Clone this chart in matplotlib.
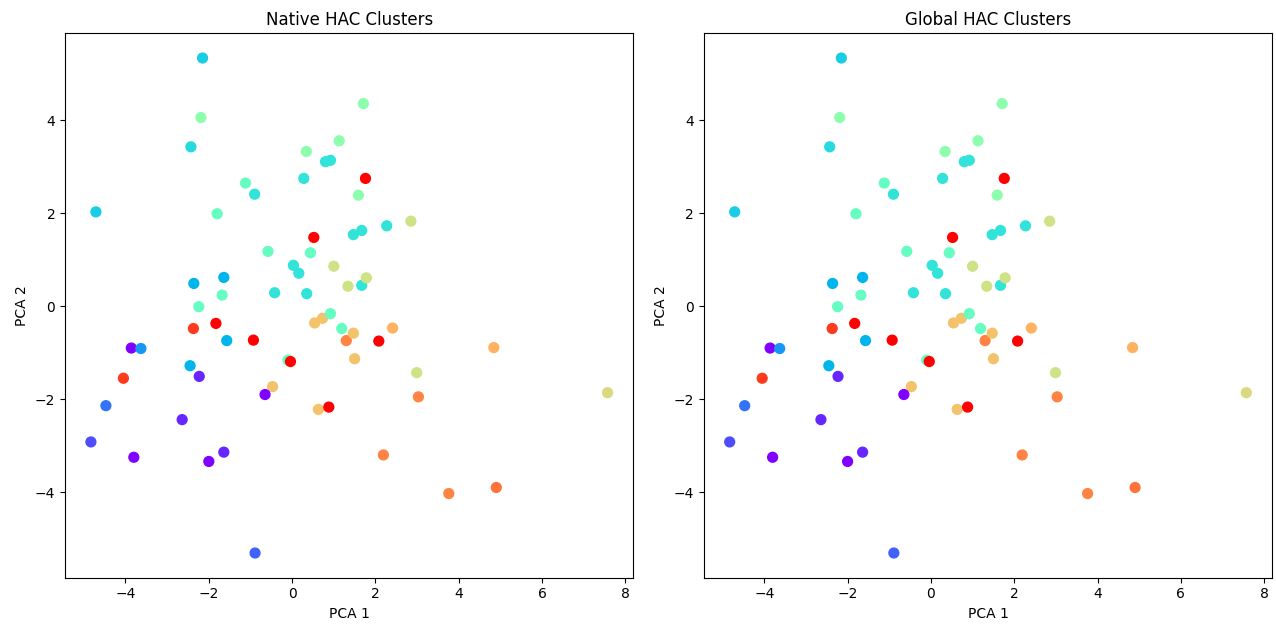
import matplotlib
matplotlib.use("Agg")
import matplotlib.pyplot as plt
import numpy as np

# PCA coordinates of the samples
pca1 = [-2.15, -2.19, -2.43, -4.71, -1.12, -0.90, -1.80, 1.71, 1.13, 0.34,
        0.80, 0.92, 0.28, 1.76, 1.59, 0.52, 0.44, 1.47, 1.67, 2.27,
        2.85, -0.58, 0.03, 0.16, 1.00, 1.34, 1.67, 1.78, 0.35, -0.42,
        -2.36, -1.64, -1.68, -2.24, -2.37, -1.83, -1.57, -0.93, 0.54, 0.73,
        0.92, 1.19, 1.30, 1.47, 2.41, 2.08, 1.50, -3.86, -3.63, -4.05,
        -2.45, -2.23, -0.10, -0.04, -0.47, -0.65, 0.63, 0.88, 2.99, 3.03,
        4.84, 7.57, -4.47, -4.83, -2.64, -3.80, -2.00, -1.64, 2.19, 3.76,
        4.90, -0.89]
pca2 = [5.34, 4.06, 3.43, 2.03, 2.65, 2.41, 1.99, 4.36, 3.56, 3.33,
        3.11, 3.14, 2.75, 2.75, 2.39, 1.48, 1.15, 1.54, 1.63, 1.73,
        1.83, 1.18, 0.88, 0.71, 0.86, 0.43, 0.45, 0.61, 0.27, 0.29,
        0.49, 0.62, 0.24, -0.01, -0.48, -0.37, -0.74, -0.73, -0.36, -0.26,
        -0.16, -0.48, -0.74, -0.58, -0.47, -0.75, -1.13, -0.90, -0.91, -1.55,
        -1.28, -1.51, -1.16, -1.19, -1.73, -1.90, -2.22, -2.17, -1.43, -1.95,
        -0.89, -1.86, -2.14, -2.92, -2.44, -3.25, -3.34, -3.14, -3.20, -4.03,
        -3.90, -5.31]

# cluster labels (native and global runs give the same assignment)
native_labels = [12, 21, 13, 12, 18, 14, 18, 21, 21, 21,
                 14, 14, 14, 40, 21, 40, 18, 14, 14, 14,
                 26, 18, 14, 14, 26, 26, 14, 26, 14, 14,
                 10, 10, 18, 18, 37, 40, 10, 40, 29, 29,
                 18, 18, 33, 29, 30, 40, 29, 0, 8, 37,
                 10, 2, 18, 40, 29, 0, 29, 40, 26, 33,
                 30, 27, 6, 4, 2, 0, 0, 2, 33, 33,
                 34, 5]
global_labels = list(native_labels)

fig, axes = plt.subplots(1, 2, figsize=(12.76, 6.28), dpi=100)
fig.subplots_adjust(left=0.051, right=0.997, bottom=0.080, top=0.947, wspace=0.124)

for ax, labels, title in zip(axes, [native_labels, global_labels],
                             ["Native HAC Clusters", "Global HAC Clusters"]):
    ax.scatter(pca1, pca2, c=labels, cmap="rainbow", s=50, vmin=0, vmax=40)
    ax.set_title(title, fontsize=12)
    ax.set_xlabel("PCA 1")
    ax.set_ylabel("PCA 2")

plt.savefig("out.png", dpi=100)
